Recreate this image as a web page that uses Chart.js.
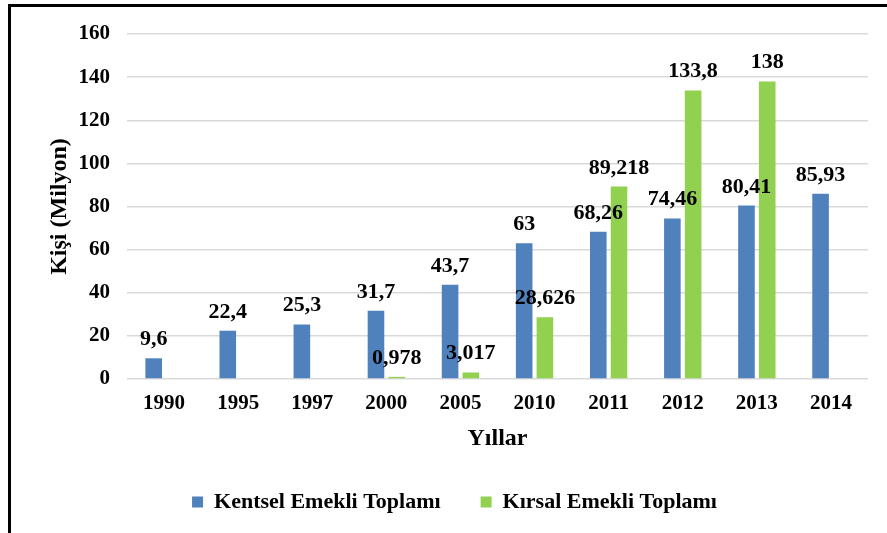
<!DOCTYPE html>
<html>
<head>
<meta charset="utf-8">
<script src="https://cdn.jsdelivr.net/npm/chart.js@4.4.1/dist/chart.umd.min.js"></script>
<style>
    html, body { margin: 0; padding: 0; background: #fff; overflow: hidden; }
    #frame {
        position: absolute; left: 8px; top: 4px;
        width: 1000px; height: 700px;
        border: 3px solid #000;
    }
    #wrap { position: absolute; left: 0; top: 0; width: 887px; height: 533px; }
</style>
</head>
<body>
<div id="frame"></div>
<div id="wrap"><canvas id="chart"></canvas></div>
<script>
// data
const years = ['1990', '1995', '1997', '2000', '2005', '2010', '2011', '2012', '2013', '2014'];
const kentsel = [9.6, 22.4, 25.3, 31.7, 43.7, 63, 68.26, 74.46, 80.41, 85.93];
const kirsal = [null, null, null, 0.978, 3.017, 28.626, 89.218, 133.8, 138, null];
const yTicks = [0, 20, 40, 60, 80, 100, 120, 140, 160];

const FONT = '"Liberation Serif", "Times New Roman", serif';

// draw the value labels above each bar
const barLabels = {
    id: 'barLabels',
    afterDatasetsDraw(chart) {
        const ctx = chart.ctx;
        ctx.save();
        ctx.font = 'bold 22px ' + FONT;
        ctx.fillStyle = '#000';
        ctx.textAlign = 'center';
        ctx.textBaseline = 'alphabetic';
        chart.data.datasets.forEach((ds, i) => {
            chart.getDatasetMeta(i).data.forEach((bar, j) => {
                const v = ds.data[j];
                if (v === null || v === undefined) return;
                ctx.fillText(String(v).replace('.', ','), bar.x, bar.y - 13);
            });
        });
        ctx.restore();
    }
};

new Chart(document.getElementById('chart'), {
    type: 'bar',
    data: {
        labels: years,
        datasets: [
            {
                label: 'Kentsel Emekli Toplamı',
                data: kentsel,
                backgroundColor: '#4F81BD',
                categoryPercentage: 0.56,
                barPercentage: 0.8
            },
            {
                label: 'Kırsal Emekli Toplamı',
                data: kirsal,
                backgroundColor: '#92D050',
                categoryPercentage: 0.56,
                barPercentage: 0.8
            }
        ]
    },
    options: {
        responsive: true,
        maintainAspectRatio: false,
        animation: false,
        layout: { padding: { left: 41, right: 19, top: 34, bottom: 10 } },
        scales: {
            x: {
                grid: { display: false },
                border: { display: false },
                ticks: {
                    color: '#000',
                    font: { family: FONT, size: 21, weight: 'bold' },
                    padding: 4,
                    autoSkip: false,
                    maxRotation: 0
                },
                title: {
                    display: true,
                    text: 'Yıllar',
                    color: '#000',
                    font: { family: FONT, size: 24, weight: 'bold' },
                    padding: { top: 0, bottom: -2 }
                },
                afterFit(scale) { scale.height = 72; }
            },
            y: {
                min: 0,
                max: 160,
                afterBuildTicks(scale) { scale.ticks = yTicks.map(v => ({ value: v })); },
                grid: { color: '#d9d9d9', lineWidth: 1.5, drawTicks: false },
                border: { display: false },
                ticks: {
                    color: '#000',
                    font: { family: FONT, size: 21, weight: 'bold' },
                    padding: 17
                },
                title: {
                    display: true,
                    text: 'Kişi (Milyon)',
                    color: '#000',
                    font: { family: FONT, size: 24, weight: 'bold' }
                },
                afterFit(scale) { scale.width = 86; }
            }
        },
        plugins: {
            legend: {
                position: 'bottom',
                labels: {
                    color: '#000',
                    boxWidth: 11,
                    boxHeight: 11,
                    padding: 40,
                    font: { family: FONT, size: 22, weight: 'bold' }
                }
            },
            tooltip: { enabled: false }
        }
    },
    plugins: [barLabels]
});
</script>
</body>
</html>
